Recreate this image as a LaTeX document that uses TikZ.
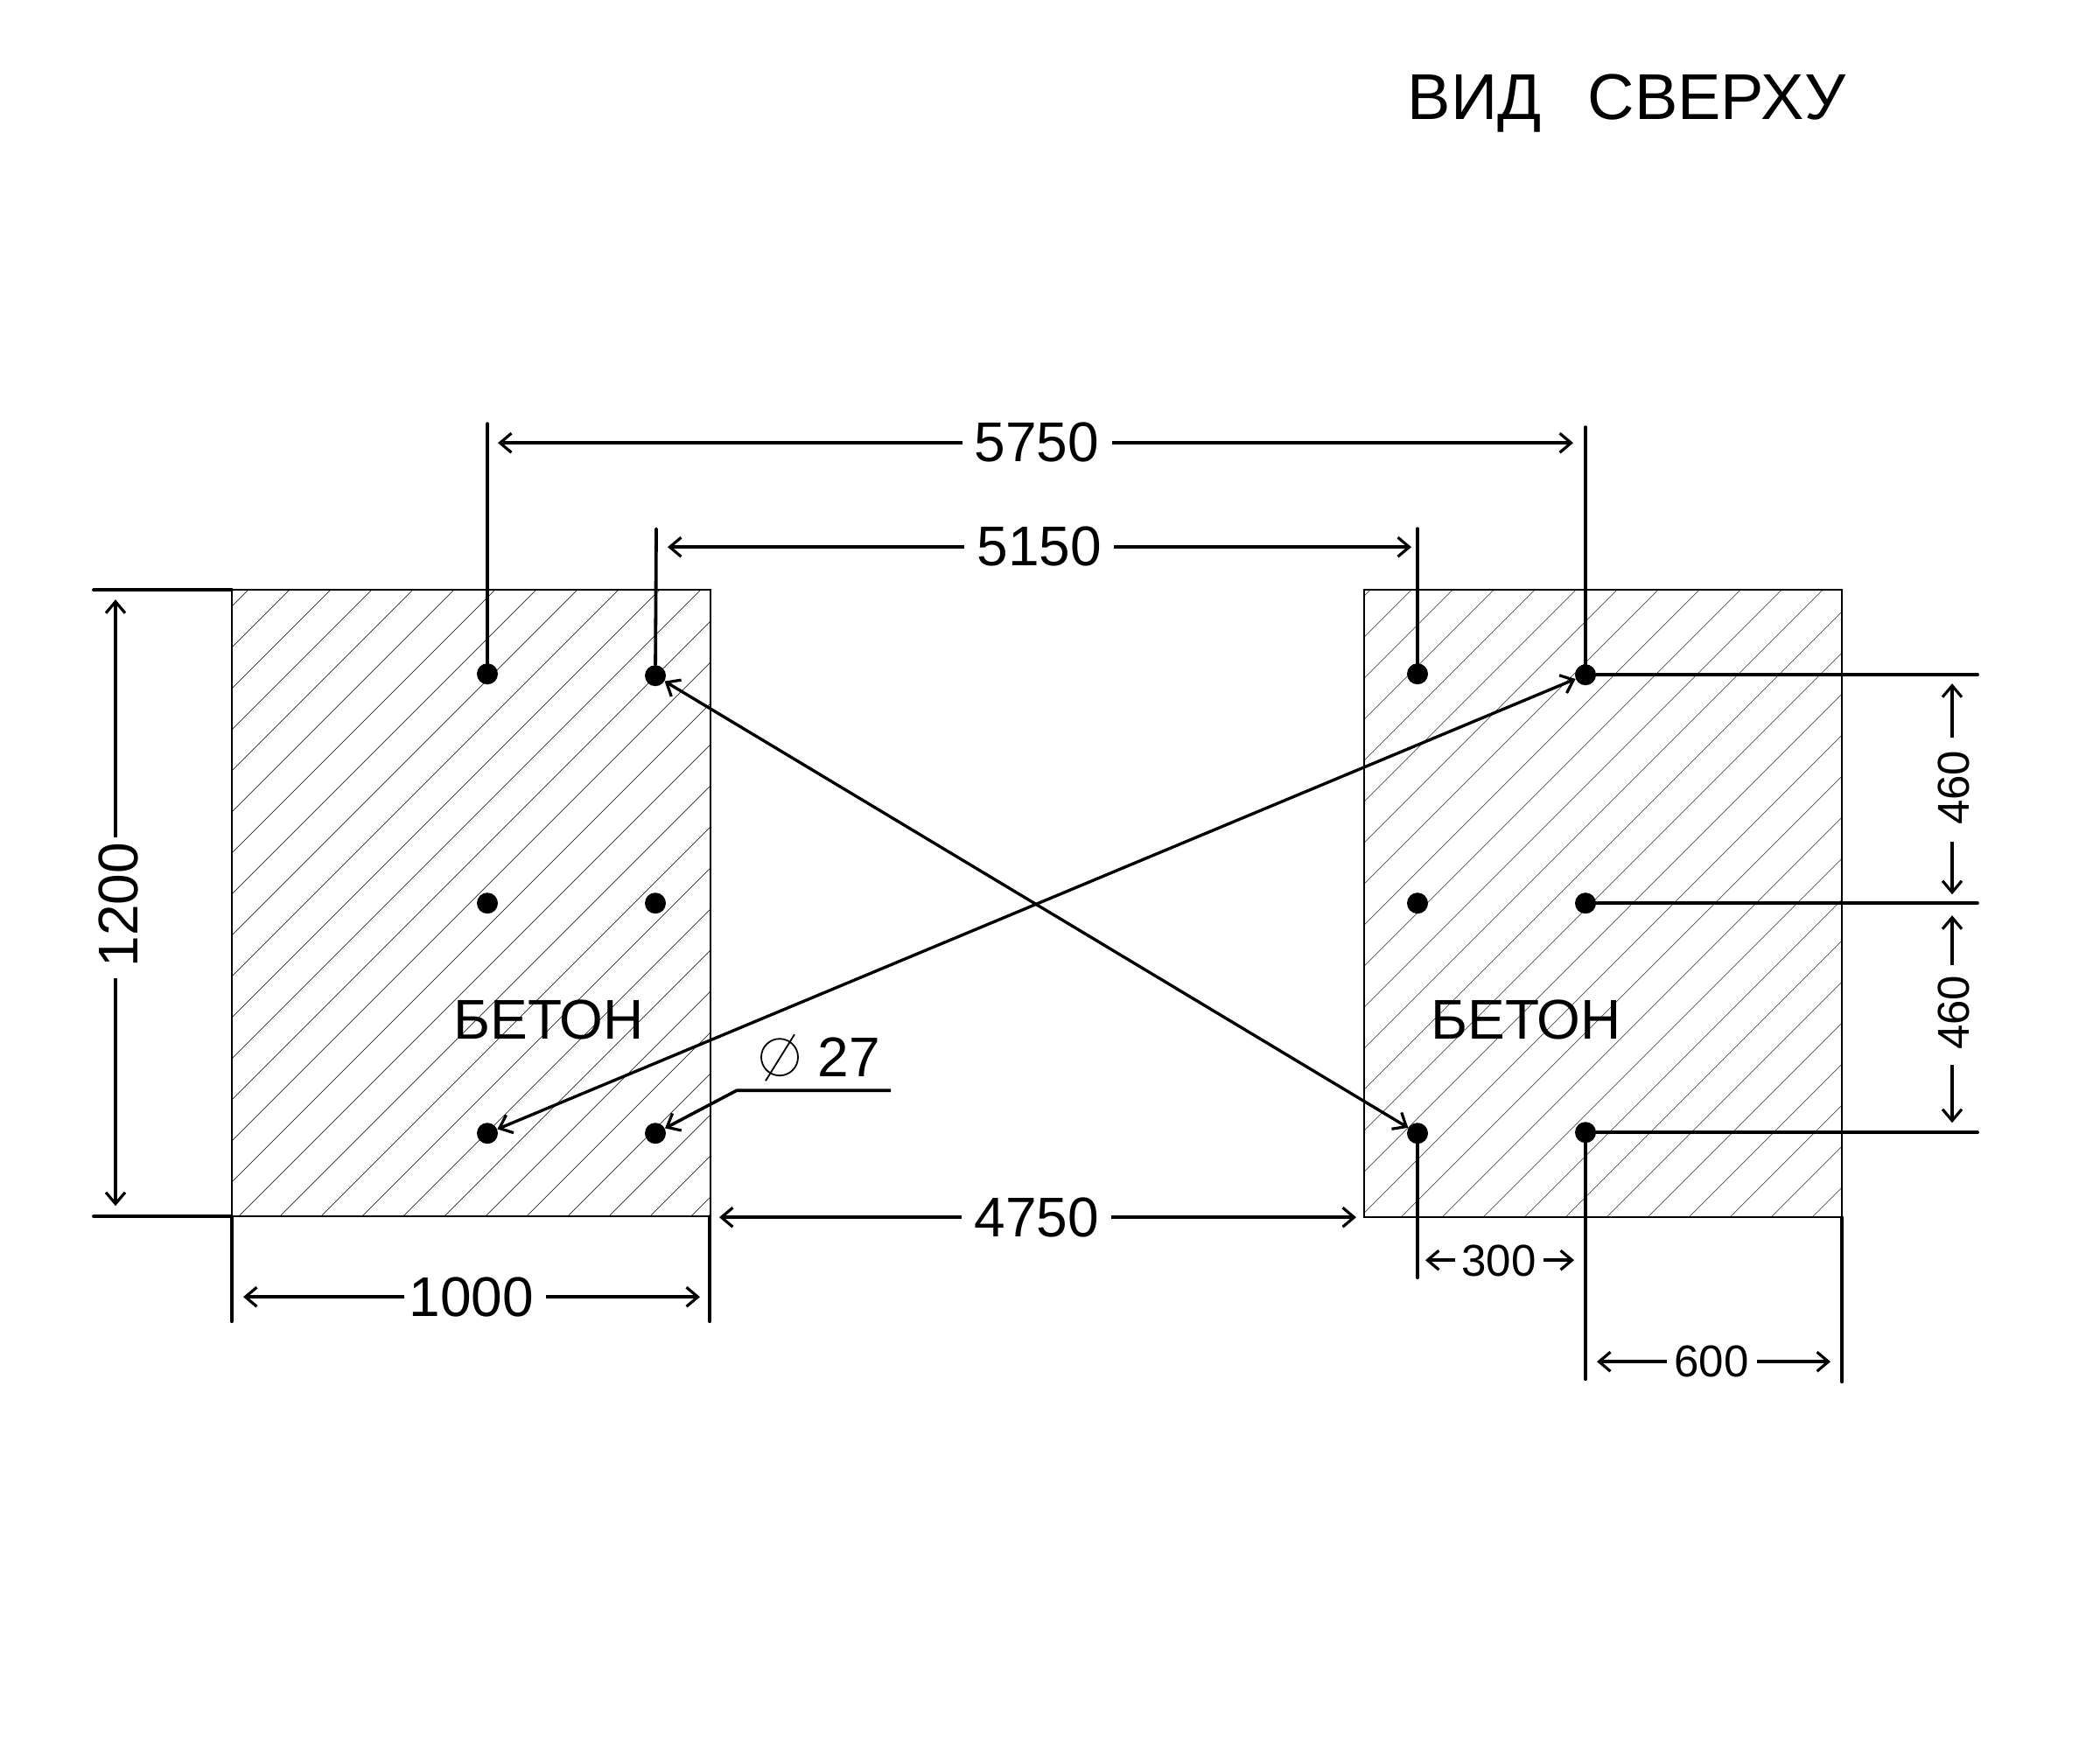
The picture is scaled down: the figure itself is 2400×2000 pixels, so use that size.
\documentclass[tikz,border=0pt]{standalone}
\usepackage{fontspec}
\setmainfont{Liberation Sans}
\usetikzlibrary{arrows.meta}
\tikzset{
  dotn/.style={circle,fill=black,draw=none,minimum size=12pt,inner sep=0pt},
  barb/.tip={Straight Barb[length=6.5pt,width=11pt,line width=1.6pt]},
  dimline/.style={line width=1.8pt,-{barb}},
  extline/.style={line width=1.9pt,line cap=round},
  diag/.style={line width=1.7pt,{barb}-{barb}},
  slab/.style={line width=1pt},
  hatchl/.style={line width=.32pt,black!85},
  biglab/.style={inner sep=0pt,font=\fontsize{32}{36}\selectfont},
  smalllab/.style={inner sep=0pt,font=\fontsize{25.5}{30}\selectfont},
  titlelab/.style={inner sep=0pt,font=\fontsize{37}{42}\selectfont},
}
\begin{document}
\begin{tikzpicture}[x=.5pt,y=-.5pt]
\useasboundingbox (0,0) rectangle (2400,2000);
\begin{scope}[yshift=-.6pt]
% hatching
\begin{scope}
  \clip (265,673) rectangle (812,1389);
  \foreach \k in {-23,...,5} {
    \pgfmathsetmacro{\cc}{1990.7+47*\k}
    \draw[hatchl] (\cc-1500,1500) -- (\cc-500,500);
  }
\end{scope}
\begin{scope}
  \clip (1559,673) rectangle (2105,1390);
  \foreach \k in {-17,...,11} {
    \pgfmathsetmacro{\cc}{2991+47*\k}
    \draw[hatchl] (\cc-1500,1500) -- (\cc-500,500);
  }
\end{scope}
\draw[slab] (265,673) rectangle (812,1389);
\draw[slab] (1559,673) rectangle (2105,1390);
% anchor dots
\node[dotn] (la) at (557,769) {};
\node[dotn] (lb) at (749,771) {};
\node[dotn] (lc) at (557,1031) {};
\node[dotn] (ld) at (749,1031) {};
\node[dotn] (le) at (557,1294) {};
\node[dotn] (lf) at (749,1294) {};
\node[dotn] (ra) at (1620,769) {};
\node[dotn] (rb) at (1812,770) {};
\node[dotn] (rc) at (1620,1031) {};
\node[dotn] (rd) at (1812,1031) {};
\node[dotn] (re) at (1620,1294) {};
\node[dotn] (rf) at (1812,1293) {};
% texts
\node[titlelab] (title) at (1859,117) {ВИД\hspace{.72em}СВЕРХУ};
\node[biglab] (betl) at (627,1164) {БЕТОН};
\node[biglab] (betr) at (1744,1164) {БЕТОН};
\node[biglab] (t5750) at (1185,504) {5750};
\node[biglab] (t5150) at (1188,623) {5150};
\node[biglab] (t4750) at (1185,1390) {4750};
\node[biglab] (t1000) at (539,1481) {1000};
\node[biglab,rotate=90] (t1200) at (135,1033) {1200};
\node[biglab] (t27) at (970,1207) {27};
\node[smalllab] (t300) at (1713,1440) {300};
\node[smalllab] (t600) at (1956,1555) {600};
\node[smalllab,rotate=90] (t460a) at (2233,899) {460};
\node[smalllab,rotate=90] (t460b) at (2233,1156) {460};
% free ends of the extension lines
\coordinate (xa) at (557,483);
\coordinate (xb) at (1812,487);
\coordinate (xc) at (750,603);
\coordinate (xd) at (1620,603);
\coordinate (xe) at (1620,1459);
\coordinate (xf) at (1812,1575);
\coordinate (xg) at (2105,1390);
\coordinate (xh) at (2105,1578);
\coordinate (xi) at (265,1389);
\coordinate (xj) at (265,1509);
\coordinate (xk) at (811,1389);
\coordinate (xl) at (811,1509);
\coordinate (xm) at (107,673);
\coordinate (xn) at (265,673);
\coordinate (xo) at (107,1389);
\coordinate (xp) at (265,1389);
\coordinate (xq) at (2260,770);
\coordinate (xr) at (2260,1031);
\coordinate (xs) at (2260,1293);
\draw[extline] (la) -- (xa);
\draw[extline] (rb) -- (xb);
\draw[extline] (lb) -- (xc);
\draw[extline] (ra) -- (xd);
\draw[extline] (re) -- (xe);
\draw[extline] (rf) -- (xf);
\draw[extline] (xg) -- (xh);
\draw[extline] (xi) -- (xj);
\draw[extline] (xk) -- (xl);
\draw[extline] (xm) -- (xn);
\draw[extline] (xo) -- (xp);
\draw[extline] (rb) -- (xq);
\draw[extline] (rd) -- (xr);
\draw[extline] (rf) -- (xs);
% dimension lines (gaps kept level with the arrow tips)
\coordinate (a1) at (569,505); \coordinate (a2) at (1798,505);
\coordinate (g1) at (1100,505); \coordinate (g2) at (1271,505);
\draw[dimline] (g1) -- (a1);
\draw[dimline] (g2) -- (a2);
\coordinate (b1) at (763,624); \coordinate (b2) at (1613,624);
\coordinate (g3) at (1102,624); \coordinate (g4) at (1273,624);
\draw[dimline] (g3) -- (b1);
\draw[dimline] (g4) -- (b2);
\coordinate (c1) at (822,1390); \coordinate (c2) at (1550,1390);
\coordinate (g5) at (1099,1390); \coordinate (g6) at (1270,1390);
\draw[dimline] (g5) -- (c1);
\draw[dimline] (g6) -- (c2);
\coordinate (d1) at (278,1481); \coordinate (d2) at (800,1481);
\coordinate (g7) at (462,1481); \coordinate (g8) at (624,1481);
\draw[dimline] (g7) -- (d1);
\draw[dimline] (g8) -- (d2);
\coordinate (e1) at (132,684); \coordinate (e2) at (132,1377);
\coordinate (e3) at (132,956); \coordinate (e4) at (132,1117);
\draw[dimline] (e3) -- (e1);
\draw[dimline] (e4) -- (e2);
\coordinate (f1) at (1629,1439); \coordinate (f2) at (1799,1439);
\coordinate (g9) at (1663,1439); \coordinate (g10) at (1764,1439);
\draw[dimline] (g9) -- (f1);
\draw[dimline] (g10) -- (f2);
\coordinate (h1) at (1825,1555); \coordinate (h2) at (2092,1555);
\coordinate (g11) at (1905,1555); \coordinate (g12) at (2008,1555);
\draw[dimline] (g11) -- (h1);
\draw[dimline] (g12) -- (h2);
\coordinate (i1) at (2231,780); \coordinate (i2) at (2231,1021);
\coordinate (i3) at (2231,842); \coordinate (i4) at (2231,961);
\draw[dimline] (i3) -- (i1);
\draw[dimline] (i4) -- (i2);
\coordinate (j1) at (2231,1045); \coordinate (j2) at (2231,1282);
\coordinate (j3) at (2231,1102); \coordinate (j4) at (2231,1216);
\draw[dimline] (j3) -- (j1);
\draw[dimline] (j4) -- (j2);
% diagonals
\draw[diag] (lb) -- (re);
\draw[diag] (le) -- (rb);
% diameter leader
\coordinate (k1) at (1018,1245); \coordinate (k2) at (842,1245);
\draw[dimline,line join=round] (k1) -- (k2) -- (lf);
% diameter sign
\node[circle,draw,line width=.9pt,minimum size=21pt,inner sep=0pt] (phi) at (891,1207) {};
\coordinate (p1) at (875,1234); \coordinate (p2) at (908,1181);
\draw[line width=.9pt] (p1) -- (p2);
\end{scope}
\end{tikzpicture}
\end{document}
